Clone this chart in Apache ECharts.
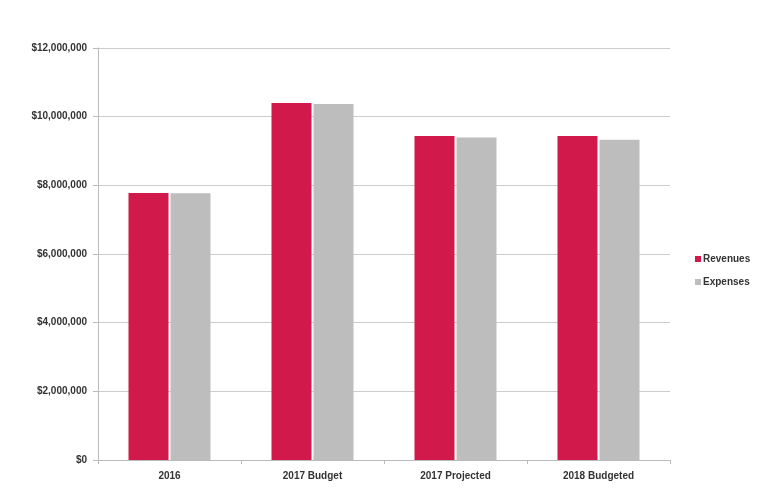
<!DOCTYPE html>
<html>
<head>
<meta charset="utf-8">
<script src="https://cdn.jsdelivr.net/npm/echarts@6/dist/echarts.min.js"></script>
<style>
  html, body { margin: 0; padding: 0; background: #fff; }
  #chart { width: 763px; height: 488px; }
</style>
</head>
<body>
<div id="chart"></div>
<script>
// Budget overview: revenues vs. expenses by period
const categories = ['2016', '2017 Budget', '2017 Projected', '2018 Budgeted'];
const revenues = [7780000, 10400000, 9440000, 9440000];
const expenses = [7770000, 10370000, 9390000, 9330000];
const yTicks = [0, 2000000, 4000000, 6000000, 8000000, 10000000, 12000000];

const fmtMoney = v => '$' + v.toLocaleString('en-US');

const chart = echarts.init(document.getElementById('chart'));
chart.setOption({
  animation: false,
  backgroundColor: '#ffffff',
  textStyle: { fontFamily: 'Liberation Sans, Arial, sans-serif' },
  grid: { left: 98, right: 93, top: 48, bottom: 28 },
  legend: {
    orient: 'vertical',
    left: 690,
    top: 249,
    itemWidth: 6,
    itemHeight: 6,
    itemGap: 13,
    icon: 'rect',
    textStyle: { fontSize: 10, fontWeight: 'bold', color: '#333', padding: [0, 0, 0, -3] },
    data: ['Revenues', 'Expenses']
  },
  xAxis: {
    type: 'category',
    data: categories,
    axisLine: { lineStyle: { color: '#bbbbbb' } },
    axisTick: { show: true, length: 4, lineStyle: { color: '#bbbbbb' } },
    axisLabel: { color: '#333', fontSize: 10, fontWeight: 'bold', margin: 11 }
  },
  yAxis: {
    type: 'value',
    min: yTicks[0],
    max: yTicks[yTicks.length - 1],
    interval: 2000000,
    axisLine: { show: true, lineStyle: { color: '#bbbbbb' } },
    axisTick: { show: true, length: 5, lineStyle: { color: '#bbbbbb' } },
    splitLine: { lineStyle: { color: '#cccccc' } },
    axisLabel: {
      color: '#333',
      fontSize: 10,
      fontWeight: 'bold',
      margin: 11,
      formatter: fmtMoney
    }
  },
  series: [
    {
      name: 'Revenues',
      type: 'bar',
      data: revenues,
      barWidth: 40,
      barGap: '5%',
      itemStyle: { color: '#d11a4b' }
    },
    {
      name: 'Expenses',
      type: 'bar',
      data: expenses,
      barWidth: 40,
      itemStyle: { color: '#bdbdbd' }
    }
  ]
});
</script>
</body>
</html>
